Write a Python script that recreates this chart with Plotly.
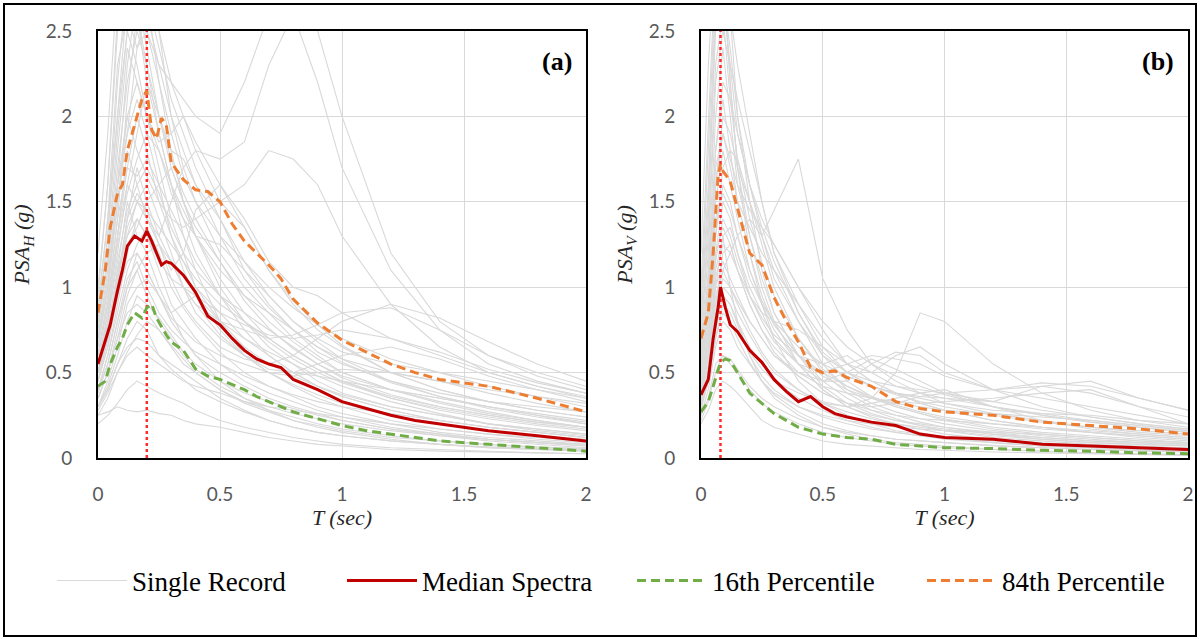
import plotly.graph_objects as go

# ---------------- period grids (sec) ----------------
T_H = [0, 0.04, 0.08, 0.12, 0.16, 0.2, 0.25, 0.3, 0.35, 0.4, 0.5, 0.6, 0.7,
       0.8, 0.9, 1.0, 1.2, 1.4, 1.6, 1.8, 2.0]
T_V = [0, 0.03, 0.06, 0.09, 0.12, 0.15, 0.2, 0.25, 0.3, 0.4, 0.5, 0.6, 0.7,
       0.8, 0.9, 1.0, 1.2, 1.4, 1.6, 1.8, 2.0]

# ---------------- horizontal component: single records (g) ----------------
records_h = [
    [0.45, 0.7, 1.1, 1.5, 1.3, 1.2, 1.0, 0.85, 0.7, 0.6, 0.45, 0.35, 0.28, 0.22, 0.18, 0.15, 0.11, 0.08, 0.06, 0.05, 0.04],
    [0.6, 0.9, 1.4, 2.1, 2.6, 2.3, 1.9, 1.6, 1.3, 1.1, 0.8, 0.6, 0.5, 0.42, 0.35, 0.3, 0.22, 0.17, 0.14, 0.11, 0.09],
    [0.3, 0.4, 0.55, 0.7, 0.8, 0.75, 0.6, 0.55, 0.5, 0.45, 0.35, 0.28, 0.22, 0.18, 0.15, 0.13, 0.1, 0.08, 0.06, 0.05, 0.04],
    [0.8, 1.3, 2.2, 2.8, 3.0, 2.7, 2.2, 1.8, 1.5, 1.3, 1.0, 0.8, 0.65, 0.55, 0.45, 0.38, 0.3, 0.25, 0.2, 0.17, 0.14],
    [0.5, 0.8, 1.2, 1.6, 1.9, 2.2, 2.0, 1.8, 1.75, 1.6, 1.4, 1.1, 0.9, 0.75, 0.62, 0.55, 0.45, 0.38, 0.33, 0.3, 0.27],
    [0.35, 0.5, 0.75, 1.0, 1.2, 1.1, 0.95, 0.85, 0.9, 0.95, 0.8, 0.7, 0.62, 0.55, 0.48, 0.42, 0.33, 0.26, 0.2, 0.16, 0.13],
    [0.25, 0.27, 0.3, 0.28, 0.27, 0.28, 0.26, 0.25, 0.22, 0.2, 0.18, 0.15, 0.12, 0.1, 0.08, 0.07, 0.05, 0.04, 0.035, 0.03, 0.025],
    [0.7, 1.0, 1.6, 1.9, 2.4, 2.6, 2.5, 2.2, 2.0, 1.8, 1.5, 1.6, 1.8, 1.75, 1.6, 1.3, 0.9, 0.65, 0.5, 0.42, 0.35],
    [0.55, 0.8, 1.3, 1.8, 1.6, 1.4, 1.25, 1.1, 1.2, 1.45, 1.6, 1.4, 1.15, 1.0, 0.95, 0.85, 0.7, 0.6, 0.5, 0.42, 0.36],
    [0.9, 1.4, 2.0, 2.5, 2.8, 2.6, 2.3, 2.2, 2.1, 2.0, 1.9, 2.2, 2.6, 2.9, 2.5, 2.0, 1.2, 0.8, 0.6, 0.48, 0.4],
    [0.6, 0.9, 1.3, 1.6, 1.5, 1.4, 1.3, 1.5, 1.7, 1.8, 1.75, 1.85, 2.3, 2.6, 2.2, 1.7, 1.1, 0.75, 0.55, 0.45, 0.38],
    [0.4, 0.6, 0.9, 1.2, 1.4, 1.3, 1.1, 0.9, 0.8, 0.7, 0.55, 0.45, 0.38, 0.33, 0.28, 0.24, 0.18, 0.14, 0.11, 0.09, 0.07],
    [0.5, 0.75, 1.1, 1.3, 1.5, 1.6, 1.4, 1.2, 1.0, 0.85, 0.7, 0.6, 0.55, 0.5, 0.48, 0.45, 0.4, 0.35, 0.3, 0.25, 0.2],
    [0.3, 0.45, 0.65, 0.9, 1.0, 1.05, 0.95, 0.8, 0.7, 0.6, 0.5, 0.42, 0.35, 0.3, 0.26, 0.22, 0.17, 0.13, 0.1, 0.08, 0.06],
    [0.65, 1.0, 1.5, 1.9, 2.1, 1.9, 1.6, 1.3, 1.1, 0.95, 0.75, 0.6, 0.52, 0.5, 0.55, 0.6, 0.65, 0.58, 0.48, 0.4, 0.33],
    [0.45, 0.65, 1.0, 1.4, 1.7, 1.5, 1.3, 1.15, 1.0, 0.9, 0.8, 0.75, 0.7, 0.72, 0.78, 0.85, 0.88, 0.75, 0.6, 0.5, 0.42],
    [0.35, 0.5, 0.7, 0.85, 0.9, 0.85, 0.75, 0.65, 0.55, 0.5, 0.4, 0.33, 0.28, 0.24, 0.2, 0.17, 0.13, 0.1, 0.08, 0.06, 0.05],
    [0.75, 1.2, 1.9, 2.5, 2.3, 2.0, 1.7, 1.4, 1.2, 1.0, 0.8, 0.65, 0.55, 0.48, 0.42, 0.37, 0.3, 0.25, 0.2, 0.17, 0.14],
    [0.55, 0.85, 1.3, 1.7, 2.0, 1.8, 1.5, 1.3, 1.15, 1.0, 0.85, 0.7, 0.6, 0.5, 0.42, 0.36, 0.28, 0.22, 0.18, 0.15, 0.12],
    [0.4, 0.55, 0.8, 1.0, 1.1, 1.2, 1.25, 1.15, 1.0, 0.9, 0.72, 0.6, 0.5, 0.43, 0.37, 0.32, 0.25, 0.2, 0.16, 0.13, 0.11],
    [1.0, 1.6, 2.6, 3.2, 3.0, 2.8, 2.5, 2.0, 1.7, 1.5, 1.2, 1.0, 0.85, 0.7, 0.6, 0.5, 0.4, 0.33, 0.27, 0.22, 0.18],
    [0.3, 0.4, 0.55, 0.65, 0.7, 0.68, 0.6, 0.52, 0.46, 0.4, 0.33, 0.27, 0.22, 0.18, 0.15, 0.13, 0.1, 0.08, 0.065, 0.055, 0.045],
    [0.5, 0.7, 1.0, 1.25, 1.35, 1.5, 1.6, 1.7, 1.5, 1.3, 1.1, 0.95, 0.85, 0.75, 0.65, 0.58, 0.5, 0.45, 0.4, 0.36, 0.32],
    [0.6, 0.95, 1.5, 2.0, 2.2, 2.0, 1.8, 1.55, 1.4, 1.3, 1.25, 1.1, 0.95, 0.8, 0.7, 0.62, 0.55, 0.5, 0.45, 0.4, 0.35],
    [0.45, 0.65, 0.95, 1.15, 1.2, 1.1, 0.95, 0.82, 0.75, 0.68, 0.6, 0.55, 0.5, 0.48, 0.5, 0.52, 0.5, 0.45, 0.38, 0.32, 0.27],
    [0.35, 0.5, 0.7, 0.95, 1.1, 0.95, 0.8, 0.7, 0.6, 0.52, 0.42, 0.35, 0.3, 0.26, 0.23, 0.2, 0.16, 0.13, 0.11, 0.09, 0.07],
    [0.8, 1.3, 2.0, 2.7, 2.9, 2.5, 2.2, 1.9, 1.65, 1.5, 1.3, 1.15, 1.0, 0.88, 0.78, 0.7, 0.58, 0.5, 0.42, 0.36, 0.3],
    [0.25, 0.35, 0.5, 0.6, 0.65, 0.6, 0.55, 0.5, 0.45, 0.42, 0.38, 0.33, 0.3, 0.28, 0.26, 0.24, 0.2, 0.17, 0.14, 0.12, 0.1],
    [0.55, 0.8, 1.15, 1.45, 1.6, 1.7, 1.55, 1.35, 1.2, 1.1, 0.95, 0.85, 0.75, 0.65, 0.55, 0.48, 0.4, 0.35, 0.3, 0.26, 0.22],
    [0.7, 1.1, 1.7, 2.2, 2.5, 2.3, 2.0, 1.7, 1.5, 1.35, 1.15, 0.95, 0.8, 0.68, 0.58, 0.5, 0.4, 0.32, 0.26, 0.22, 0.18],
    [1.2, 1.9, 2.8, 3.0, 2.6, 2.2, 1.9, 1.6, 1.4, 1.2, 0.95, 0.75, 0.6, 0.5, 0.42, 0.36, 0.28, 0.22, 0.18, 0.15, 0.12],
    [0.5, 0.75, 1.05, 1.35, 1.5, 1.45, 1.35, 1.25, 1.15, 1.05, 0.9, 0.8, 0.7, 0.6, 0.52, 0.45, 0.36, 0.3, 0.25, 0.21, 0.18],
    [0.4, 0.6, 0.85, 1.1, 1.25, 1.35, 1.2, 1.0, 0.88, 0.78, 0.62, 0.5, 0.42, 0.36, 0.3, 0.26, 0.2, 0.15, 0.12, 0.1, 0.08],
    [0.85, 1.4, 2.3, 2.6, 2.4, 2.5, 2.3, 2.0, 1.8, 1.6, 1.3, 1.05, 0.88, 0.75, 0.65, 0.56, 0.44, 0.36, 0.3, 0.25, 0.21],
    [0.3, 0.42, 0.6, 0.8, 0.95, 0.9, 0.82, 0.72, 0.62, 0.55, 0.45, 0.38, 0.33, 0.29, 0.25, 0.22, 0.17, 0.14, 0.11, 0.09, 0.08],
    [0.65, 1.0, 1.6, 2.3, 2.7, 2.4, 2.0, 1.75, 1.55, 1.4, 1.15, 0.92, 0.76, 0.64, 0.55, 0.47, 0.37, 0.3, 0.25, 0.21, 0.18],
    [0.45, 0.7, 1.05, 1.4, 1.55, 1.45, 1.25, 1.05, 0.9, 0.8, 0.65, 0.58, 0.55, 0.6, 0.7, 0.8, 0.9, 0.82, 0.68, 0.55, 0.45],
    [0.55, 0.85, 1.25, 1.55, 1.75, 1.9, 1.8, 1.6, 1.45, 1.3, 1.05, 0.85, 0.7, 0.6, 0.52, 0.45, 0.35, 0.28, 0.23, 0.19, 0.16],
    [0.2, 0.25, 0.32, 0.4, 0.45, 0.42, 0.38, 0.35, 0.32, 0.28, 0.22, 0.18, 0.15, 0.12, 0.1, 0.08, 0.06, 0.05, 0.04, 0.03, 0.025],
    [0.7, 1.05, 1.6, 2.0, 1.8, 1.65, 1.5, 1.4, 1.35, 1.4, 1.5, 1.35, 1.1, 0.9, 0.75, 0.65, 0.5, 0.4, 0.33, 0.28, 0.24],
    [0.6, 0.9, 1.4, 1.7, 1.65, 1.75, 1.6, 1.45, 1.3, 1.15, 0.95, 0.8, 0.68, 0.58, 0.5, 0.44, 0.35, 0.29, 0.24, 0.2, 0.17],
    [0.38, 0.55, 0.8, 1.05, 1.15, 1.0, 0.85, 0.75, 0.68, 0.62, 0.55, 0.48, 0.42, 0.37, 0.33, 0.3, 0.26, 0.22, 0.18, 0.15, 0.12],
    [0.95, 1.6, 2.5, 2.9, 3.1, 2.7, 2.4, 2.1, 1.9, 1.7, 1.4, 1.15, 0.95, 0.8, 0.68, 0.58, 0.45, 0.36, 0.29, 0.24, 0.2],
    [0.5, 0.72, 1.05, 1.3, 1.4, 1.3, 1.15, 1.05, 1.0, 0.95, 0.85, 0.78, 0.72, 0.7, 0.72, 0.75, 0.7, 0.62, 0.52, 0.44, 0.38],
    [0.28, 0.38, 0.5, 0.62, 0.72, 0.8, 0.75, 0.66, 0.58, 0.5, 0.4, 0.32, 0.27, 0.22, 0.19, 0.16, 0.12, 0.1, 0.08, 0.065, 0.055],
    [0.75, 1.15, 1.8, 2.4, 2.2, 2.0, 1.85, 1.9, 2.0, 1.85, 1.6, 1.35, 1.1, 0.92, 0.78, 0.66, 0.5, 0.4, 0.33, 0.28, 0.24],
]

# ---------------- vertical component: single records (g) ----------------
records_v = [
    [0.35, 0.6, 1.1, 1.3, 1.0, 0.8, 0.6, 0.45, 0.35, 0.25, 0.18, 0.14, 0.11, 0.09, 0.08, 0.07, 0.05, 0.04, 0.03, 0.025, 0.02],
    [0.7, 1.4, 2.6, 2.9, 2.2, 1.7, 1.2, 0.9, 0.7, 0.45, 0.32, 0.25, 0.2, 0.16, 0.14, 0.12, 0.09, 0.07, 0.06, 0.05, 0.04],
    [0.25, 0.35, 0.55, 0.6, 0.55, 0.5, 0.4, 0.32, 0.27, 0.2, 0.15, 0.12, 0.1, 0.08, 0.07, 0.06, 0.05, 0.04, 0.03, 0.025, 0.02],
    [0.5, 0.9, 1.6, 2.0, 1.9, 1.7, 1.5, 1.3, 1.1, 0.8, 0.55, 0.4, 0.32, 0.27, 0.23, 0.2, 0.16, 0.13, 0.11, 0.09, 0.08],
    [0.4, 0.6, 0.9, 1.1, 1.2, 1.3, 1.4, 1.3, 1.45, 1.75, 1.05, 0.75, 0.55, 0.45, 0.38, 0.32, 0.26, 0.22, 0.18, 0.15, 0.13],
    [0.3, 0.45, 0.7, 0.9, 0.85, 0.75, 0.62, 0.52, 0.45, 0.38, 0.33, 0.3, 0.35, 0.5, 0.85, 0.8, 0.55, 0.38, 0.28, 0.22, 0.18],
    [0.6, 1.1, 2.0, 2.4, 2.0, 1.6, 1.3, 1.05, 0.85, 0.6, 0.42, 0.32, 0.26, 0.22, 0.19, 0.17, 0.14, 0.12, 0.1, 0.09, 0.08],
    [0.45, 0.7, 1.2, 1.5, 1.4, 1.2, 0.95, 0.8, 0.68, 0.55, 0.5, 0.55, 0.6, 0.58, 0.55, 0.48, 0.4, 0.35, 0.3, 0.25, 0.2],
    [0.2, 0.28, 0.4, 0.45, 0.42, 0.38, 0.3, 0.22, 0.18, 0.14, 0.1, 0.08, 0.07, 0.06, 0.05, 0.045, 0.035, 0.03, 0.025, 0.02, 0.015],
    [0.9, 1.8, 2.8, 3.1, 2.6, 2.0, 1.5, 1.1, 0.85, 0.6, 0.45, 0.35, 0.28, 0.23, 0.19, 0.16, 0.12, 0.1, 0.08, 0.07, 0.06],
    [0.35, 0.55, 0.9, 1.2, 1.25, 1.1, 0.9, 0.75, 0.65, 0.5, 0.42, 0.38, 0.35, 0.33, 0.32, 0.33, 0.35, 0.38, 0.4, 0.3, 0.2],
    [0.5, 0.85, 1.5, 1.8, 1.6, 1.4, 1.1, 0.9, 0.75, 0.55, 0.4, 0.3, 0.25, 0.22, 0.2, 0.18, 0.15, 0.12, 0.1, 0.09, 0.08],
    [0.3, 0.45, 0.75, 0.95, 0.9, 0.8, 0.65, 0.55, 0.45, 0.35, 0.28, 0.22, 0.18, 0.15, 0.13, 0.11, 0.09, 0.07, 0.06, 0.05, 0.04],
    [0.65, 1.2, 2.2, 2.5, 2.3, 2.1, 1.8, 1.5, 1.2, 0.9, 0.65, 0.5, 0.42, 0.38, 0.35, 0.32, 0.28, 0.26, 0.25, 0.22, 0.2],
    [0.4, 0.65, 1.0, 1.3, 1.35, 1.2, 1.0, 0.85, 0.7, 0.55, 0.45, 0.45, 0.55, 0.62, 0.6, 0.5, 0.4, 0.42, 0.38, 0.3, 0.24],
    [0.55, 1.0, 1.8, 2.1, 1.8, 1.5, 1.2, 0.95, 0.78, 0.6, 0.5, 0.42, 0.36, 0.31, 0.27, 0.24, 0.2, 0.17, 0.15, 0.13, 0.11],
    [0.25, 0.4, 0.65, 0.8, 0.75, 0.65, 0.55, 0.45, 0.38, 0.3, 0.25, 0.22, 0.2, 0.18, 0.17, 0.16, 0.15, 0.14, 0.12, 0.1, 0.09],
    [0.45, 0.75, 1.3, 1.6, 1.5, 1.3, 1.05, 0.9, 0.8, 0.65, 0.55, 0.48, 0.42, 0.38, 0.36, 0.35, 0.33, 0.42, 0.45, 0.35, 0.28],
    [0.8, 1.5, 2.5, 2.7, 2.4, 2.0, 1.6, 1.3, 1.05, 0.8, 0.6, 0.5, 0.45, 0.42, 0.4, 0.38, 0.33, 0.28, 0.24, 0.2, 0.17],
    [0.3, 0.5, 0.8, 1.0, 0.95, 0.85, 0.72, 0.6, 0.5, 0.4, 0.32, 0.27, 0.23, 0.2, 0.18, 0.16, 0.13, 0.11, 0.09, 0.08, 0.07],
    [0.6, 1.0, 1.7, 1.9, 1.7, 1.5, 1.35, 1.2, 1.1, 0.9, 0.7, 0.55, 0.5, 0.6, 0.65, 0.55, 0.4, 0.3, 0.24, 0.2, 0.17],
    [0.35, 0.6, 1.0, 1.15, 1.05, 0.95, 0.8, 0.7, 0.6, 0.48, 0.38, 0.32, 0.28, 0.25, 0.23, 0.22, 0.2, 0.18, 0.16, 0.14, 0.12],
    [1.0, 2.0, 2.9, 2.7, 2.3, 1.9, 1.6, 1.4, 1.25, 1.0, 0.75, 0.55, 0.45, 0.38, 0.32, 0.28, 0.22, 0.18, 0.15, 0.13, 0.11],
    [0.4, 0.7, 1.15, 1.4, 1.3, 1.15, 0.95, 0.82, 0.72, 0.6, 0.55, 0.6, 0.5, 0.42, 0.38, 0.35, 0.3, 0.26, 0.22, 0.19, 0.16],
    [1.2, 2.3, 3.0, 2.8, 2.2, 1.7, 1.3, 1.0, 0.8, 0.55, 0.4, 0.3, 0.24, 0.2, 0.17, 0.14, 0.11, 0.09, 0.07, 0.06, 0.05],
    [0.5, 0.8, 1.3, 1.7, 1.8, 1.75, 1.5, 1.25, 1.0, 0.7, 0.5, 0.38, 0.3, 0.25, 0.21, 0.18, 0.14, 0.11, 0.09, 0.08, 0.07],
    [0.38, 0.6, 0.95, 1.1, 1.0, 0.9, 0.75, 0.62, 0.52, 0.4, 0.32, 0.3, 0.32, 0.35, 0.38, 0.4, 0.3, 0.22, 0.17, 0.14, 0.12],
    [0.7, 1.3, 2.3, 2.6, 2.1, 1.75, 1.4, 1.15, 0.95, 0.7, 0.52, 0.42, 0.35, 0.3, 0.26, 0.23, 0.18, 0.15, 0.13, 0.11, 0.09],
    [0.3, 0.5, 0.8, 0.95, 0.9, 0.78, 0.6, 0.48, 0.4, 0.3, 0.24, 0.2, 0.17, 0.15, 0.13, 0.12, 0.1, 0.08, 0.07, 0.06, 0.05],
    [0.55, 0.95, 1.6, 1.9, 1.75, 1.6, 1.45, 1.35, 1.25, 1.0, 0.8, 0.65, 0.55, 0.48, 0.42, 0.37, 0.3, 0.25, 0.21, 0.18, 0.15],
    [0.45, 0.75, 1.2, 1.35, 1.25, 1.1, 0.9, 0.75, 0.62, 0.48, 0.38, 0.32, 0.3, 0.32, 0.36, 0.38, 0.4, 0.44, 0.42, 0.35, 0.28],
    [0.28, 0.45, 0.7, 0.85, 0.8, 0.7, 0.56, 0.45, 0.37, 0.27, 0.2, 0.16, 0.13, 0.11, 0.1, 0.09, 0.07, 0.06, 0.05, 0.04, 0.035],
    [0.85, 1.6, 2.7, 3.0, 2.6, 2.3, 1.9, 1.5, 1.2, 0.85, 0.62, 0.5, 0.42, 0.37, 0.33, 0.3, 0.25, 0.21, 0.18, 0.16, 0.14],
    [0.4, 0.65, 1.05, 1.25, 1.2, 1.1, 0.95, 0.85, 0.8, 0.75, 0.65, 0.55, 0.45, 0.38, 0.32, 0.28, 0.22, 0.18, 0.15, 0.12, 0.1],
    [0.6, 1.05, 1.8, 2.2, 2.1, 1.9, 1.6, 1.35, 1.15, 0.85, 0.6, 0.45, 0.36, 0.3, 0.26, 0.22, 0.17, 0.14, 0.12, 0.1, 0.09],
    [0.33, 0.52, 0.85, 1.05, 1.0, 0.92, 0.8, 0.7, 0.6, 0.5, 0.45, 0.5, 0.58, 0.52, 0.45, 0.38, 0.3, 0.25, 0.21, 0.18, 0.15],
    [0.5, 0.85, 1.4, 1.55, 1.45, 1.3, 1.1, 0.92, 0.78, 0.6, 0.48, 0.4, 0.35, 0.32, 0.3, 0.28, 0.26, 0.24, 0.22, 0.19, 0.16],
    [0.22, 0.33, 0.5, 0.6, 0.58, 0.52, 0.42, 0.35, 0.3, 0.23, 0.18, 0.15, 0.13, 0.11, 0.1, 0.09, 0.075, 0.06, 0.05, 0.045, 0.04],
]

# ---------------- statistics of the horizontal spectra ----------------
T_H_stat = [0, 0.03, 0.05, 0.08, 0.1, 0.12, 0.15, 0.18, 0.2, 0.22, 0.24, 0.26, 0.28,
            0.3, 0.35, 0.4, 0.45, 0.5, 0.55, 0.6, 0.65, 0.7, 0.75, 0.8, 0.9, 1.0,
            1.1, 1.2, 1.3, 1.4, 1.6, 1.8, 2.0]
median_h = [0.55, 0.68, 0.78, 0.98, 1.1, 1.24, 1.3, 1.27, 1.33, 1.27, 1.2, 1.13, 1.15,
            1.14, 1.07, 0.97, 0.83, 0.78, 0.7, 0.63, 0.58, 0.55, 0.53, 0.46, 0.4, 0.33,
            0.29, 0.25, 0.22, 0.2, 0.16, 0.13, 0.1]
p16_h = [0.42, 0.45, 0.55, 0.65, 0.7, 0.78, 0.85, 0.82, 0.88, 0.9, 0.82, 0.77, 0.72,
         0.68, 0.63, 0.52, 0.48, 0.46, 0.43, 0.4, 0.36, 0.33, 0.3, 0.27, 0.23, 0.19,
         0.16, 0.14, 0.12, 0.1, 0.08, 0.06, 0.04]
p84_h = [0.85, 1.1, 1.35, 1.55, 1.6, 1.8, 1.95, 2.1, 2.15, 1.92, 1.87, 1.99, 1.95,
         1.73, 1.63, 1.57, 1.56, 1.5, 1.37, 1.27, 1.2, 1.13, 1.05, 0.93, 0.79, 0.69,
         0.62, 0.55, 0.5, 0.46, 0.42, 0.35, 0.27]

# ---------------- statistics of the vertical spectra ----------------
T_V_stat = [0, 0.03, 0.05, 0.07, 0.08, 0.09, 0.1, 0.12, 0.15, 0.2, 0.25, 0.3, 0.35,
            0.4, 0.45, 0.5, 0.55, 0.6, 0.7, 0.8, 0.9, 1.0, 1.2, 1.4, 1.6, 1.8, 2.0]
median_v = [0.37, 0.46, 0.7, 0.88, 1.0, 0.93, 0.88, 0.78, 0.74, 0.63, 0.56, 0.46, 0.39,
            0.33, 0.36, 0.3, 0.26, 0.24, 0.21, 0.19, 0.14, 0.12, 0.11, 0.08, 0.07, 0.06, 0.05]
p16_v = [0.27, 0.33, 0.42, 0.52, 0.56, 0.57, 0.58, 0.57, 0.5, 0.38, 0.32, 0.26, 0.22,
         0.18, 0.16, 0.14, 0.13, 0.12, 0.11, 0.08, 0.07, 0.06, 0.055, 0.045, 0.04, 0.03, 0.025]
p84_v = [0.7, 0.85, 1.2, 1.65, 1.72, 1.68, 1.66, 1.62, 1.46, 1.2, 1.13, 0.94, 0.8,
         0.68, 0.53, 0.5, 0.51, 0.47, 0.42, 0.33, 0.29, 0.27, 0.25, 0.21, 0.19, 0.17, 0.14]

# periods marked by the dotted reference lines
T_PEAK_H = 0.2
T_PEAK_V = 0.08

X_TICKS = [0, 0.5, 1, 1.5, 2]
X_TICK_TEXT = ["0", "0.5", "1", "1.5", "2"]
Y_TICKS = [0, 0.5, 1, 1.5, 2, 2.5]
Y_TICK_TEXT = ["0", "0.5", "1", "1.5", "2", "2.5"]

GRAY = "#d9d9d9"
RED = "#c00000"
GREEN = "#70ad47"
ORANGE = "#ed7d31"
DASH = "9px,5px"

fig = go.Figure()

panels = [
    ("x", "y", T_H, records_h, T_H_stat, median_h, p16_h, p84_h, T_PEAK_H),
    ("x2", "y2", T_V, records_v, T_V_stat, median_v, p16_v, p84_v, T_PEAK_V),
]

for k, (xa, ya, tg, recs, ts, med, lo, hi, tpk) in enumerate(panels):
    for i, r in enumerate(recs):
        fig.add_trace(go.Scatter(
            x=tg, y=r, xaxis=xa, yaxis=ya, mode="lines",
            line=dict(color=GRAY, width=1.1),
            name="Single Record", legendgroup="rec", legendrank=1,
            showlegend=(k == 0 and i == 0), hoverinfo="skip"))
    fig.add_trace(go.Scatter(
        x=[tpk, tpk], y=[0, 2.5], xaxis=xa, yaxis=ya, mode="lines",
        line=dict(color="#ff2a2a", width=2.5, dash="dot"),
        showlegend=False, hoverinfo="skip"))
    fig.add_trace(go.Scatter(
        x=ts, y=lo, xaxis=xa, yaxis=ya, mode="lines",
        line=dict(color=GREEN, width=3, dash=DASH),
        name="16th Percentile", legendgroup="p16", legendrank=3,
        showlegend=(k == 0)))
    fig.add_trace(go.Scatter(
        x=ts, y=hi, xaxis=xa, yaxis=ya, mode="lines",
        line=dict(color=ORANGE, width=3, dash=DASH),
        name="84th Percentile", legendgroup="p84", legendrank=4,
        showlegend=(k == 0)))
    fig.add_trace(go.Scatter(
        x=ts, y=med, xaxis=xa, yaxis=ya, mode="lines",
        line=dict(color=RED, width=3),
        name="Median Spectra", legendgroup="med", legendrank=2,
        showlegend=(k == 0)))

W, H = 1200, 639
ML, MR, MT, MB = 98, 12, 31, 181
PW = W - ML - MR
PH = H - MT - MB


def px_x(p):
    return (p - ML) / PW


def px_y(p):
    return (H - MB - p) / PH


tick_font = dict(family="Lato, Open Sans, sans-serif", size=19, color="#595959")
title_font = dict(family="Liberation Serif, serif", size=22, color="#262626")

common_x = dict(range=[0, 2], tickvals=X_TICKS, ticktext=X_TICK_TEXT,
                showgrid=True, gridcolor=GRAY, gridwidth=1, zeroline=False,
                showline=True, linecolor="black", linewidth=2, mirror=True,
                tickfont=tick_font, ticks="", ticklabelstandoff=18,
                title=dict(text="<i>T (sec)</i>", font=title_font, standoff=6))
common_y = dict(range=[0, 2.5], tickvals=Y_TICKS, ticktext=Y_TICK_TEXT,
                showgrid=True, gridcolor=GRAY, gridwidth=1, zeroline=False,
                showline=True, linecolor="black", linewidth=2, mirror=True,
                tickfont=tick_font, ticks="", ticklabelstandoff=20)

fig.update_layout(
    width=W, height=H,
    margin=dict(l=ML, r=MR, t=MT, b=MB, autoexpand=False),
    paper_bgcolor="white", plot_bgcolor="white",
    showlegend=True,
    xaxis=dict(domain=[0, px_x(586)], anchor="y", **common_x),
    xaxis2=dict(domain=[px_x(701), 1], anchor="y2", **common_x),
    yaxis=dict(domain=[0, 1], anchor="x",
               title=dict(text="<i>PSA<sub>H</sub> (g)</i>", font=title_font, standoff=10),
               **common_y),
    yaxis2=dict(domain=[0, 1], anchor="x2",
                title=dict(text="<i>PSA<sub>V</sub> (g)</i>", font=title_font, standoff=10),
                **common_y),
    legend=dict(orientation="h", x=px_x(52), y=px_y(581), xanchor="left", yanchor="middle",
                font=dict(family="Liberation Serif, serif", size=27, color="black"),
                itemwidth=70, entrywidth=205, entrywidthmode="pixels",
                bgcolor="rgba(0,0,0,0)", traceorder="normal"),
    annotations=[
        dict(text="<b>(a)</b>", x=px_x(574), y=px_y(62), xref="paper", yref="paper",
             xanchor="right", yanchor="middle", showarrow=False,
             font=dict(family="Liberation Serif, serif", size=26, color="black")),
        dict(text="<b>(b)</b>", x=px_x(1176), y=px_y(62), xref="paper", yref="paper",
             xanchor="right", yanchor="middle", showarrow=False,
             font=dict(family="Liberation Serif, serif", size=26, color="black")),
    ],
    shapes=[
        dict(type="rect", xref="paper", yref="paper",
             x0=px_x(4), x1=px_x(1196), y0=px_y(636), y1=px_y(4),
             line=dict(color="black", width=2), fillcolor="rgba(0,0,0,0)", layer="below"),
    ],
)

fig.write_html("out.html")
